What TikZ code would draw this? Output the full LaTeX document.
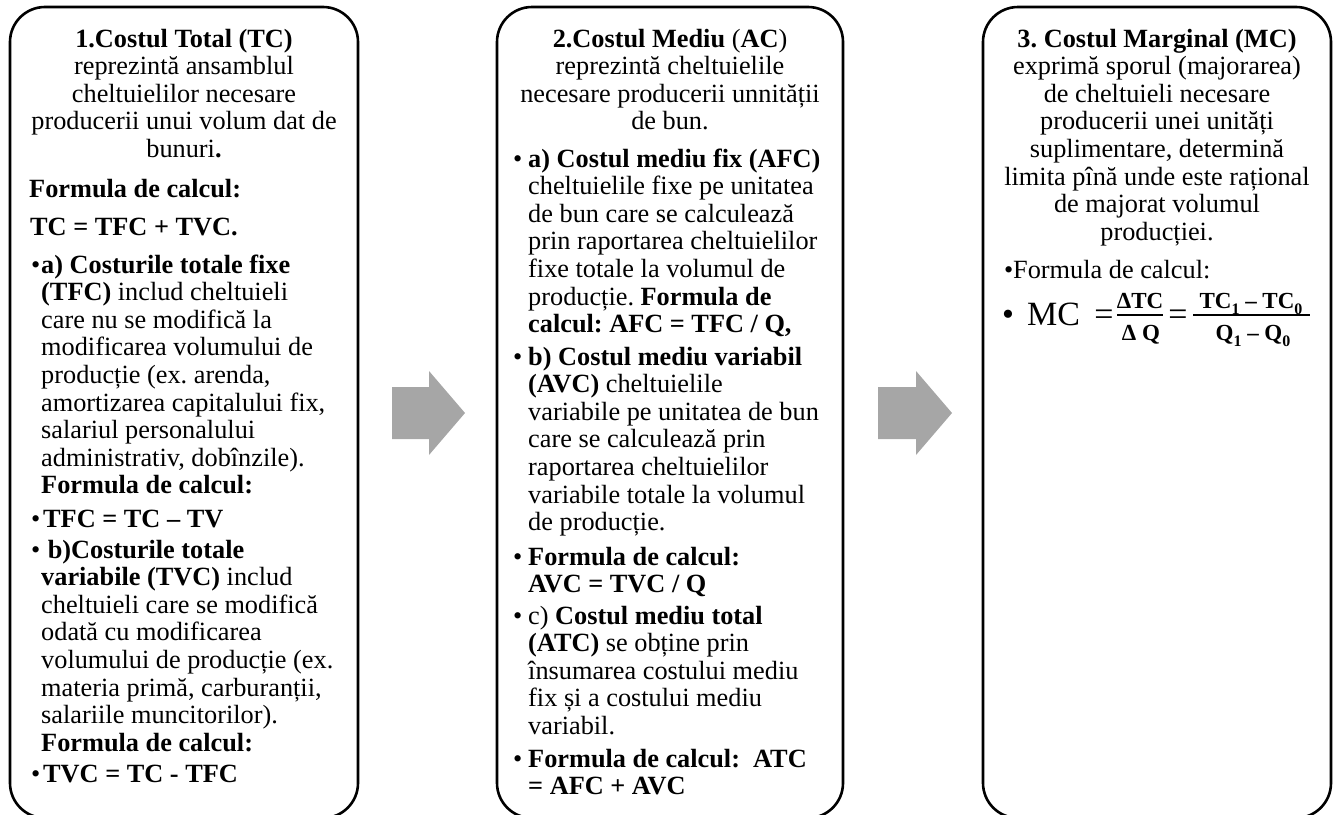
\RequirePackage{fix-cm}
\documentclass[tikz,border=0pt]{standalone}
\usepackage{fontspec}
\setmainfont{Liberation Serif}
\frenchspacing
\definecolor{arrowgray}{HTML}{A6A6A6}
\newcommand\fs{\fontsize{26.3}{27.6}\selectfont}
\newcommand\txtL[1]{\begin{tabular}[t]{@{}l@{}}#1\end{tabular}}
\newcommand\txtC[1]{\begin{tabular}[t]{@{}c@{}}#1\end{tabular}}
\newcommand\sbs[1]{\raisebox{-0.28em}{\fontsize{16}{16}\selectfont #1}}
\begin{document}
\begin{tikzpicture}[x=1pt,y=-1pt,
  box/.style={draw=black,line width=2.6pt,rounded corners=35pt,minimum width=#1,minimum height=811pt,inner sep=0pt},
  txt/.style={anchor=base west,inner sep=0pt,font=\fs},
  ttl/.style={anchor=base,inner sep=0pt,font=\fs},
  bul/.style={anchor=base west,inner sep=0pt,font=\fs},
  frc/.style={anchor=base,inner sep=0pt,font=\fontsize{23}{23}\selectfont\bfseries},
  big/.style={inner sep=0pt,font=\fontsize{34}{36}\selectfont},
  blockarrow/.style={fill=arrowgray,draw=none}]
\useasboundingbox (0,0) rectangle (1338,814);
\clip (0,0) rectangle (1338,814);
% boxes
\node[box=348pt] (b1) at (184,412.5) {};
\node[box=346pt] (b2) at (670,412.5) {};
\node[box=348pt] (b3) at (1157,412.5) {};
% block arrows
\fill[blockarrow] (392,387) -- (429,387) -- (429,371) -- (465,413) -- (429,455) -- (429,439) -- (392,439) -- cycle;
\fill[blockarrow] (878,387) -- (916,387) -- (916,371) -- (952,413) -- (916,455) -- (916,439) -- (878,439) -- cycle;
% box 1
\node[ttl] (t1) at (184,47) {\txtC{\textbf{1.Costul Total (TC)}\\ reprezintă ansamblul\\ cheltuielilor necesare\\ producerii unui volum dat de\\ bunuri\textbf{.}}};
\node[txt] (f1) at (29,197) {\textbf{Formula de calcul:}};
\node[txt] (f2) at (30,235) {\textbf{TC = TFC + TVC.}};
\node[bul] (u1) at (31,273) {•};
\node[txt] (p1) at (41,273) {\txtL{\textbf{a) Costurile totale fixe}\\ \textbf{(TFC)} includ cheltuieli\\ care nu se modifică la\\ modificarea volumului de\\ producție (ex. arenda,\\ amortizarea capitalului fix,\\ salariul personalului\\ administrativ, dobînzile).\\ \textbf{Formula de calcul:}}};
\node[bul] (u2) at (31,527) {•};
\node[txt] (p2) at (43,527) {\textbf{TFC = TC – TV}};
\node[bul] (u3) at (31,558) {•};
\node[txt] (p3) at (41,558) {\txtL{\ \textbf{b)Costurile totale}\\ \textbf{variabile (TVC)} includ\\ cheltuieli care se modifică\\ odată cu modificarea\\ volumului de producție (ex.\\ materia primă, carburanții,\\ salariile muncitorilor).\\ \textbf{Formula de calcul:}}};
\node[bul] (u4) at (31,782) {•};
\node[txt] (p4) at (43,782) {\textbf{TVC = TC - TFC}};
% box 2
\node[ttl] (t2) at (670,47) {\txtC{\textbf{2.Costul Mediu} (\textbf{AC})\\ reprezintă cheltuielile\\ necesare producerii unnității\\ de bun.}};
\node[bul] (v1) at (513,167) {•};
\node[txt] (q1) at (528,167) {\txtL{\textbf{a) Costul mediu fix (AFC)}\\ cheltuielile fixe pe unitatea\\ de bun care se calculează\\ prin raportarea cheltuielilor\\ fixe totale la volumul de\\ producție. \textbf{Formula de}\\ \textbf{calcul: AFC = TFC / Q,}}};
\node[bul] (v2) at (513,365) {•};
\node[txt] (q2) at (528,365) {\txtL{\textbf{b) Costul mediu variabil}\\ \textbf{(AVC)} cheltuielile\\ variabile pe unitatea de bun\\ care se calculează prin\\ raportarea cheltuielilor\\ variabile totale la volumul\\ de producție.}};
\node[bul] (v3) at (513,565) {•};
\node[txt] (q3) at (528,565) {\txtL{\textbf{Formula de calcul:}\\ \textbf{AVC = TVC / Q}}};
\node[bul] (v4) at (513,624) {•};
\node[txt] (q4) at (528,624) {\txtL{c) \textbf{Costul mediu total}\\ \textbf{(ATC)} se obține prin\\ însumarea costului mediu\\ fix și a costului mediu\\ variabil.}};
\node[bul] (v5) at (513,767) {•};
\node[txt] (q5) at (528,767) {\txtL{\textbf{Formula de calcul:\ \ ATC}\\ \textbf{= AFC + AVC}}};
% box 3
\node[ttl] (t3) at (1157,47) {\txtC{\textbf{3. Costul Marginal (MC)}\\ exprimă sporul (majorarea)\\ de cheltuieli necesare\\ producerii unei unități\\ suplimentare, determină\\ limita pînă unde este rațional\\ de majorat volumul\\ producției.}};
\node[bul] (w1) at (1004,278) {•};
\node[txt] (r1) at (1013,278) {Formula de calcul:};
\node[big,anchor=base west] (w2) at (1002,325) {•};
\node[big,anchor=base west] (mc) at (1027,325) {MC};
\node[big,anchor=base] (eq1) at (1104,325) {=};
\node[frc] (n1) at (1140,308) {ΔTC};
\node[frc] (d1) at (1141,340) {Δ Q};
\draw[line width=1.3pt] (1117,315) -- (1163,315);
\node[big,anchor=base] (eq2) at (1178,325) {=};
\node[frc] (n2) at (1251,308) {TC\sbs{1} – TC\sbs{0}};
\node[frc] (d2) at (1253,340) {Q\sbs{1} – Q\sbs{0}};
\draw[line width=1.3pt] (1193,315) -- (1310,315);
\end{tikzpicture}
\end{document}
